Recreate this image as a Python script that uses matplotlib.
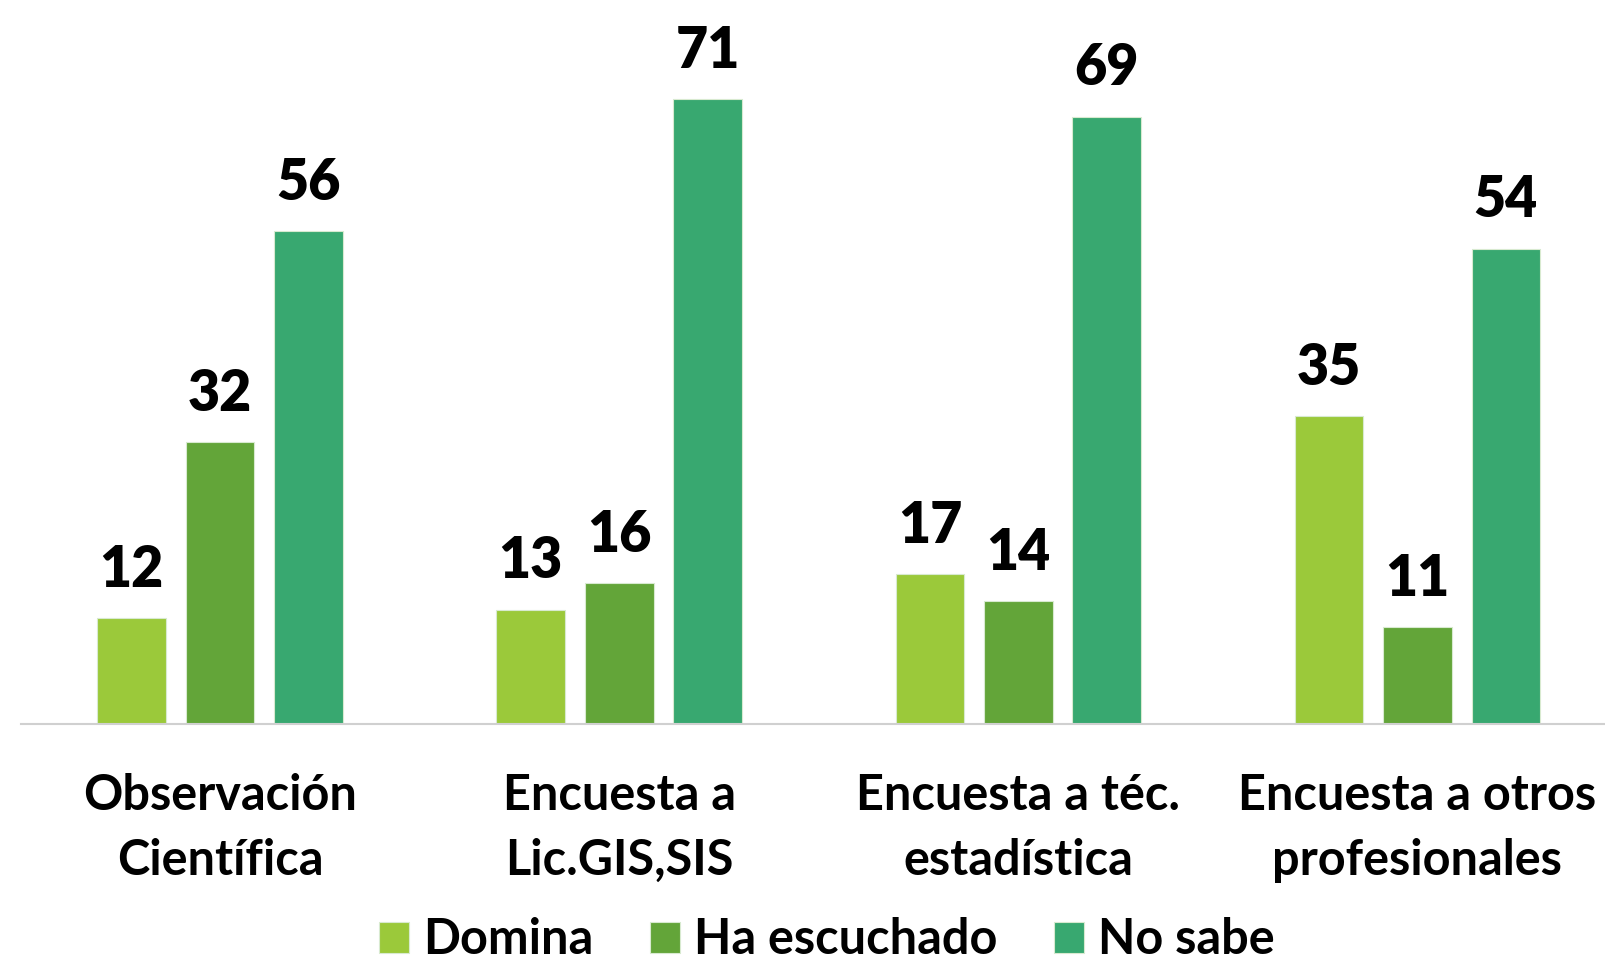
import matplotlib
matplotlib.use('Agg')
import matplotlib.pyplot as plt
import numpy as np

plt.rcParams['font.family'] = ['Lato', 'DejaVu Sans']
plt.rcParams['font.weight'] = 'bold'

categories = ['Observación\nCientífica', 'Encuesta a\nLic.GIS,SIS',
              'Encuesta a téc.\nestadística', 'Encuesta a otros\nprofesionales']
series_names = ['Domina', 'Ha escuchado', 'No sabe']
domina = [12, 13, 17, 35]
ha_escuchado = [32, 16, 14, 11]
no_sabe = [56, 71, 69, 54]
colors = ['#9BC93A', '#63A539', '#38A870']

fig = plt.figure(figsize=(16.06, 9.64), dpi=100)
# baseline at y=724px, left edge of axis line at x=20px
ax = fig.add_axes([20.5 / 1606, 1 - 724 / 964, (1617 - 20.5) / 1606, 724 / 964])

x = np.arange(len(categories))
step = 0.2215
width = 0.172
values = [domina, ha_escuchado, no_sabe]
for i, (vals, name, c) in enumerate(zip(values, series_names, colors)):
    bars = ax.bar(x + (i - 1) * step, vals, width, color=c, label=name,
                  edgecolor='#d8ead0', linewidth=0.8)
    for b, v in zip(bars, vals):
        ax.annotate(str(v), (b.get_x() + b.get_width() / 2, v),
                    xytext=(0, 16), textcoords='offset points',
                    ha='center', va='bottom', fontsize=40, fontweight='heavy')

ax.set_xlim(-0.5, 3.5)
ax.set_ylim(0, 724 / (625 / 71))
ax.set_yticks([])
ax.set_xticks([])
for s in ['top', 'right', 'left']:
    ax.spines[s].set_visible(False)
ax.spines['bottom'].set_color('#d0d0d0')
ax.spines['bottom'].set_linewidth(1.5)

for xi, lab in zip(x, categories):
    ax.text(xi, -5.6, lab, ha='center', va='top', fontsize=35,
            fontweight='bold', linespacing=1.52, transform=ax.transData,
            clip_on=False)

leg = fig.legend(loc='center', bbox_to_anchor=(827 / 1606, 1 - 940 / 964),
                 ncol=3, frameon=False, fontsize=35, handlelength=0.62,
                 handleheight=0.62, handletextpad=0.3, columnspacing=1.15)

fig.savefig('out.png', dpi=100)
